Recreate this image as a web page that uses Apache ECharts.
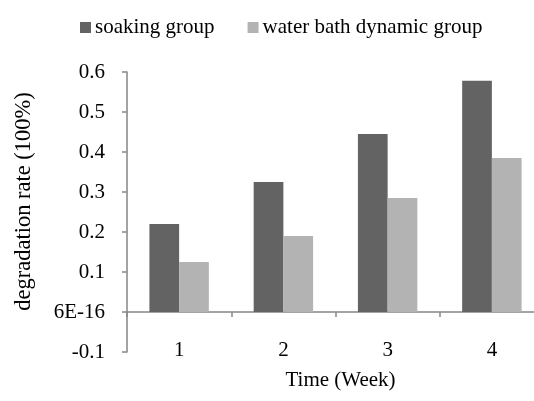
<!DOCTYPE html>
<html><head><meta charset="utf-8">
<script src="https://cdn.jsdelivr.net/npm/echarts@6/dist/echarts.min.js"></script>
<style>html,body{margin:0;padding:0;background:#fff}#c{width:534px;height:401px}</style>
</head><body><div id="c"></div>
<script>
var categories = ['1', '2', '3', '4'];
var soaking = [0.22, 0.325, 0.445, 0.578];
var waterBath = [0.125, 0.19, 0.285, 0.385];
var seriesNames = ['soaking group', 'water bath dynamic group'];

var font = 'Liberation Serif';
var chart = echarts.init(document.getElementById('c'));
chart.setOption({
  animation: false,
  backgroundColor: '#fff',
  legend: {
    left: 75, top: 12, itemWidth: 11, itemHeight: 11, itemGap: 33,
    icon: 'rect',
    textStyle: {fontFamily: font, fontSize: 21, color: '#000', padding: [0, 0, 0, -1]},
    data: seriesNames
  },
  grid: {left: 127, top: 72, bottom: 49, right: -10, containLabel: false, outerBoundsMode: 'none'},
  xAxis: {
    type: 'category', data: categories,
    axisLine: {onZero: true, lineStyle: {color: '#868686', width: 1.5}},
    axisTick: {show: true, length: 5, lineStyle: {color: '#868686', width: 1.5}},
    axisLabel: {margin: -12, fontFamily: font, fontSize: 21, color: '#000'},
    name: 'Time (Week)', nameLocation: 'middle', nameGap: 18,
    nameTextStyle: {fontFamily: font, fontSize: 21, color: '#000', padding: [0, 0, 0, 10]}
  },
  yAxis: {
    type: 'value', min: -0.1, max: 0.6, interval: 0.1,
    splitLine: {show: false},
    axisLine: {show: true, lineStyle: {color: '#868686', width: 1.5}},
    axisTick: {show: true, length: 5, lineStyle: {color: '#868686', width: 1.5}},
    axisLabel: {
      margin: 22, fontFamily: font, fontSize: 21, color: '#000',
      formatter: function (v) { return Math.abs(v) < 1e-9 ? '6E-16' : (Math.round(v * 10) / 10).toString(); }
    },
    name: 'degradation rate (100%)', nameLocation: 'middle', nameGap: 91, nameRotate: 90,
    nameTextStyle: {fontFamily: font, fontSize: 22.5, color: '#000', padding: [0, 0, 0, 21]}
  },
  series: [
    {name: seriesNames[0], type: 'bar', data: soaking, barGap: '0%', barCategoryGap: '43%', itemStyle: {color: '#636363'}},
    {name: seriesNames[1], type: 'bar', data: waterBath, itemStyle: {color: '#b3b3b3'}}
  ]
});
</script></body></html>
